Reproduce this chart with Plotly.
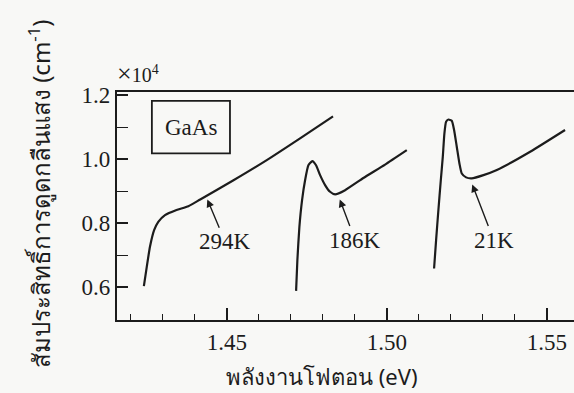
import plotly.graph_objects as go

# Absorption coefficient of GaAs near the band edge (units of 1e4 cm^-1)
e_294 = [1.4241, 1.4250, 1.4260, 1.4273, 1.4286, 1.4307, 1.4343, 1.4380, 1.4417,
         1.4521, 1.4625, 1.4729, 1.4832]
a_294 = [0.603, 0.663, 0.726, 0.778, 0.804, 0.825, 0.841, 0.853, 0.874,
         0.934, 0.997, 1.065, 1.134]

e_186 = [1.47166, 1.47206, 1.47269, 1.47353, 1.47447, 1.47550, 1.47675, 1.47790,
         1.47916, 1.48072, 1.48228, 1.48384, 1.48697, 1.49269, 1.49947, 1.50625]
a_186 = [0.588, 0.684, 0.788, 0.872, 0.934, 0.981, 0.994, 0.981,
         0.950, 0.919, 0.898, 0.890, 0.903, 0.941, 0.983, 1.028]

e_21 = [1.51478, 1.51541, 1.51613, 1.51688, 1.51750, 1.51800, 1.51853, 1.51925,
        1.52031, 1.52103, 1.52188, 1.52269, 1.52344, 1.52478, 1.52656, 1.53020,
        1.53440, 1.54480, 1.55570]
a_21 = [0.658, 0.747, 0.841, 0.934, 1.007, 1.080, 1.117, 1.124,
        1.120, 1.091, 1.038, 0.987, 0.955, 0.943, 0.940, 0.950,
        0.966, 1.023, 1.091]

# Temperature labels: (text, arrow tip x, arrow tip y, label x, label y)
labels = [
    ("294K", 1.4438, 0.877, 1.4495, 0.742),
    ("186K", 1.4852, 0.877, 1.4901, 0.747),
    ("21K", 1.5266, 0.924, 1.5334, 0.747),
]

x_ticks = [1.45, 1.50, 1.55]
y_ticks = [0.6, 0.8, 1.0, 1.2]

INK = "#1c1c1c"
SERIF = "Liberation Serif, Times New Roman, serif"
THAI = "Noto Sans, DejaVu Sans, sans-serif"

fig = go.Figure()
for xs, ys in [(e_294, a_294), (e_186, a_186), (e_21, a_21)]:
    fig.add_trace(go.Scatter(
        x=xs, y=ys, mode="lines",
        line=dict(color=INK, width=2.2, shape="spline", smoothing=0.5),
        showlegend=False, hoverinfo="skip",
    ))

for text, hx, hy, tx, ty in labels:
    fig.add_annotation(
        x=hx, y=hy, ax=tx, ay=ty, axref="x", ayref="y", xref="x", yref="y",
        text=text, showarrow=True, arrowhead=2, arrowsize=1.1, arrowwidth=1.4,
        arrowcolor=INK, standoff=1, startstandoff=0,
        font=dict(family=SERIF, size=23, color=INK),
    )

# Sample name box
fig.add_shape(type="rect", xref="x", yref="y",
              x0=1.4266, x1=1.4510, y0=1.018, y1=1.182,
              line=dict(color=INK, width=1.8))
fig.add_annotation(x=1.4388, y=1.100, xref="x", yref="y", text="GaAs",
                   showarrow=False, font=dict(family=SERIF, size=23, color=INK))

# Scale factor above the y axis
fig.add_annotation(x=-0.004, y=1.01, xref="paper", yref="paper",
                   xanchor="left", yanchor="bottom",
                   text="<span style='font-size:26px'>×</span>10<sup>4</sup>",
                   showarrow=False,
                   font=dict(family=SERIF, size=20, color=INK))

# Axis titles
fig.add_annotation(x=-0.212, y=0.555, xref="paper", yref="paper",
                   text="สัมประสิทธิ์การดูดกลืนแสง (cm<sup>-1</sup>)",
                   textangle=-90, showarrow=False,
                   font=dict(family=THAI, size=24, color=INK))
fig.add_annotation(x=0.449, y=-0.246, xref="paper", yref="paper",
                   yanchor="middle",
                   text="พลังงานโฟตอน (eV)", showarrow=False,
                   font=dict(family=THAI, size=22, color=INK))

fig.update_layout(
    width=574, height=393,
    margin=dict(l=117, r=0, t=92, b=73),
    paper_bgcolor="#f8f8f6", plot_bgcolor="#f8f8f6",
    xaxis=dict(
        range=[1.4157, 1.5585], tickvals=x_ticks, tickformat=".2f",
        ticks="inside", ticklen=12, tickwidth=1.6, tickcolor=INK,
        minor=dict(dtick=0.01, tick0=1.45, ticks="inside", ticklen=6,
                   tickwidth=1.4, tickcolor=INK, showgrid=False),
        showline=True, linecolor=INK, linewidth=2.2, mirror=True,
        showgrid=False, zeroline=False, ticklabelstandoff=0,
        tickfont=dict(family=SERIF, size=23, color=INK),
    ),
    yaxis=dict(
        range=[0.497, 1.21], tickvals=y_ticks, tickformat=".1f",
        ticks="inside", ticklen=11, tickwidth=1.6, tickcolor=INK,
        minor=dict(dtick=0.1, tick0=0.6, ticks="inside", ticklen=11,
                   tickwidth=1.4, tickcolor=INK, showgrid=False),
        showline=True, linecolor=INK, linewidth=2.2, mirror=False,
        showgrid=False, zeroline=False, ticklabelstandoff=0,
        tickfont=dict(family=SERIF, size=23, color=INK),
    ),
)

fig.write_html("out.html")
